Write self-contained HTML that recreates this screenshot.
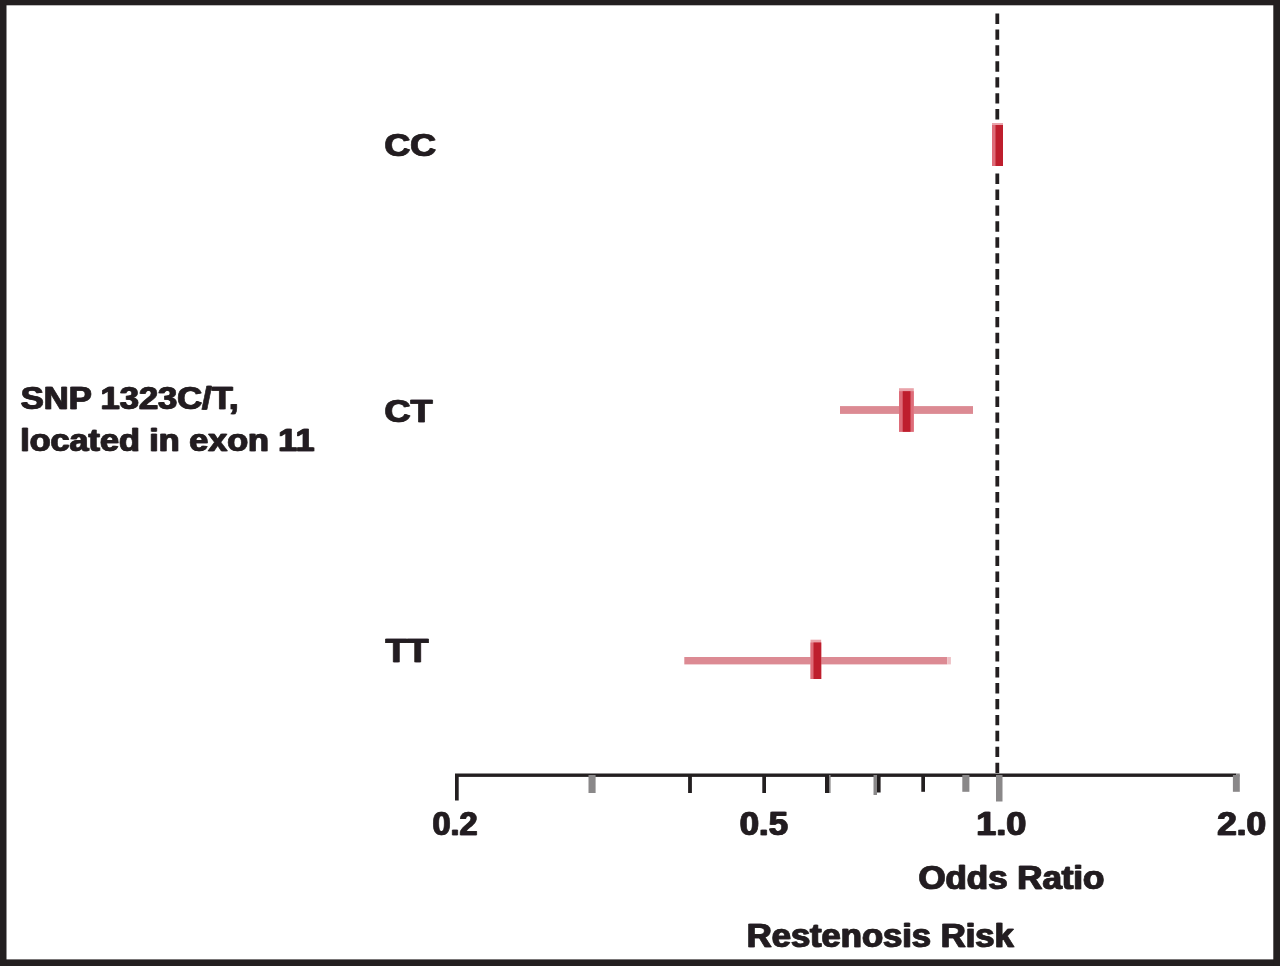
<!DOCTYPE html>
<html lang="en">
<head>
<meta charset="utf-8">
<title>Restenosis Risk - SNP 1323C/T forest plot</title>
<style>
html,body{margin:0;padding:0;background:#fff;}
body{width:1280px;height:966px;overflow:hidden;}
svg{display:block;}
svg text{font-family:"Liberation Sans",Arial,Helvetica,sans-serif;font-weight:bold;font-size:100px;fill:#231f20;stroke:#231f20;stroke-width:2.0;stroke-linejoin:round;}
</style>
</head>
<body>
<svg width="1280" height="966" viewBox="0 0 1280 966">
<defs>
<filter id="hb" filterUnits="userSpaceOnUse" x="0" y="0" width="1280" height="966">
<feOffset in="SourceGraphic" dx="1" dy="0" result="o"/>
<feMerge result="m"><feMergeNode in="SourceGraphic"/><feMergeNode in="o"/></feMerge>
<feGaussianBlur in="m" stdDeviation="0.5"/>
</filter>
</defs>
<rect x="0" y="0" width="1280" height="966" fill="#ffffff"/>
<!-- reference dashed line at OR = 1.0 -->
<line x1="997.3" y1="13.5" x2="997.3" y2="120" stroke="#231f20" stroke-width="3.8" stroke-dasharray="10.4 5.53"/>
<line x1="997.3" y1="173.6" x2="997.3" y2="775" stroke="#231f20" stroke-width="3.8" stroke-dasharray="10.4 5.52"/>
<!-- CC marker -->
<rect x="992" y="123" width="11" height="43" fill="#e9a3aa"/>
<rect x="992" y="125" width="11" height="41" fill="#de6c79"/>
<rect x="995.5" y="125" width="7.5" height="41" fill="#be1e2d"/>
<!-- CT -->
<rect x="840" y="406.1" width="133" height="7.8" fill="#dc8a93"/>
<rect x="899" y="388.2" width="14.8" height="43.6" fill="#e9a3aa"/>
<rect x="899" y="391.2" width="14.8" height="40.6" fill="#de6c79"/>
<rect x="902.7" y="391.2" width="7.8" height="40.6" fill="#be1e2d"/>
<!-- TT -->
<rect x="684.3" y="657" width="263" height="7.4" fill="#dc8a93"/>
<rect x="947.3" y="657" width="3.6" height="7.4" fill="#eec0c5"/>
<rect x="810.5" y="639.7" width="10.7" height="39.3" fill="#e9a3aa"/>
<rect x="810.5" y="642.5" width="10.7" height="36.5" fill="#de6c79"/>
<rect x="813.5" y="642.5" width="7.7" height="36.5" fill="#be1e2d"/>
<!-- axis -->
<rect x="455" y="773.5" width="781.3" height="3.4" fill="#231f20"/>
<rect x="455.0" y="775" width="3.7" height="25.5" fill="#231f20"/>
<rect x="588.5" y="775" width="7.1" height="18.0" fill="#8a8889"/>
<rect x="688.1" y="775" width="3.8" height="18.0" fill="#231f20"/>
<rect x="762.3" y="775" width="3.7" height="18.0" fill="#231f20"/>
<rect x="825.0" y="775" width="4.0" height="18.0" fill="#231f20"/>
<rect x="877.0" y="775" width="3.6" height="17.5" fill="#231f20"/>
<rect x="921.3" y="775" width="3.7" height="16.8" fill="#231f20"/>
<rect x="962.3" y="775" width="7.1" height="16.8" fill="#8a8889"/>
<rect x="996.0" y="775" width="6.5" height="26.5" fill="#8a8889"/>
<rect x="1232.9" y="775" width="6.9" height="16.8" fill="#8a8889"/>
<rect x="1236.3" y="773.5" width="3.5" height="3" fill="#8a8889"/>
<rect x="873.5" y="775" width="3.5" height="20" fill="#8a8889"/>
<rect x="829" y="775" width="1.6" height="18" fill="#8a8889"/>
<!-- labels -->
<g filter="url(#hb)">
<text transform="translate(20.31 409.18) scale(0.3446 0.3211)">SNP 1323C/T,</text>
<text transform="translate(19.75 450.99) scale(0.3416 0.3113)">located in exon 11</text>
<text transform="translate(383.93 156.48) scale(0.3571 0.3169)">CC</text>
<text transform="translate(383.92 421.68) scale(0.3615 0.3197)">CT</text>
<text transform="translate(385.00 662.17) scale(0.3525 0.3310)">TT</text>
<text transform="translate(432.03 834.67) scale(0.3248 0.3310)">0.2</text>
<text transform="translate(739.36 834.67) scale(0.3463 0.3310)">0.5</text>
<text transform="translate(975.70 834.67) scale(0.3595 0.3310)">1.0</text>
<text transform="translate(1216.80 834.67) scale(0.3515 0.3310)">2.0</text>
<text transform="translate(917.95 888.96) scale(0.3486 0.3380)">Odds Ratio</text>
<text transform="translate(746.23 947.47) scale(0.3456 0.3268)">Restenosis Risk</text>
</g>
<!-- frame -->
<rect x="0" y="0" width="1280" height="5.3" fill="#231f20"/>
<rect x="0" y="959.4" width="1280" height="6.6" fill="#231f20"/>
<rect x="0" y="0" width="6.5" height="966" fill="#231f20"/>
<rect x="1273.3" y="0" width="6.7" height="966" fill="#231f20"/>
</svg>
</body>
</html>
